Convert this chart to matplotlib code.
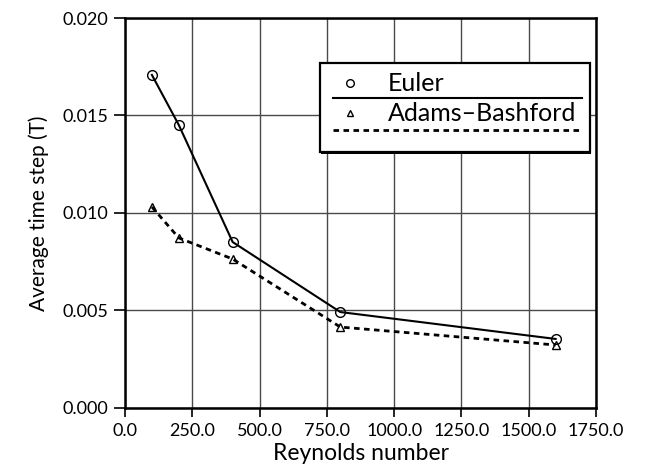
import matplotlib
matplotlib.use("Agg")
import matplotlib.pyplot as plt
from matplotlib.patches import Rectangle
from matplotlib.ticker import FormatStrFormatter

reynolds = [100, 200, 400, 800, 1600]
euler_dt = [0.01708, 0.01451, 0.00851, 0.00492, 0.00354]
adams_dt = [0.01031, 0.00872, 0.00764, 0.00415, 0.00323]
series_labels = ["Euler", "Adams\u2013Bashford"]

plt.rcParams["font.family"] = ["Lato", "DejaVu Sans"]

fig = plt.figure(figsize=(6.47, 4.75), dpi=100)
ax = fig.add_axes([0.1932, 0.1411, 0.728, 0.8210])

dots = (0, (2.0, 1.6))
ax.plot(reynolds, euler_dt, color="black", lw=1.5, marker="o", ms=7,
        mfc="none", mec="black", mew=1.0, zorder=3)
ax.plot(reynolds, adams_dt, color="black", lw=2.0, ls=dots, marker="^", ms=6,
        mfc="none", mec="black", mew=1.0, zorder=3)

ax.set_xlim(0, 1750)
ax.set_ylim(0, 0.020)
ax.set_xticks(range(0, 1751, 250))
ax.set_yticks([0.0, 0.005, 0.010, 0.015, 0.020])
ax.xaxis.set_major_formatter(FormatStrFormatter("%.1f"))
ax.yaxis.set_major_formatter(FormatStrFormatter("%.3f"))
ax.grid(True, color="#4a4a4a", lw=1.0)
ax.set_axisbelow(True)
for sp in ax.spines.values():
    sp.set_linewidth(1.8)
ax.tick_params(axis="y", direction="out", length=8, width=1.2, labelsize=13, pad=4)
ax.tick_params(axis="x", direction="out", length=6.5, width=1.2, labelsize=13, pad=4)
ax.set_xlabel("Reynolds number", fontsize=16.5, labelpad=3)
ax.set_ylabel("Average time step (T)", fontsize=15, labelpad=10)

# hand-drawn legend box
tr = ax.transAxes
ax.add_patch(Rectangle((0.417, 0.651), 0.573, 0.229, transform=tr,
                       facecolor="black", edgecolor="none", zorder=4))
ax.add_patch(Rectangle((0.414, 0.656), 0.573, 0.229, transform=tr,
                       facecolor="white", edgecolor="black", lw=1.6, zorder=5))
ax.plot([0.478], [0.833], transform=tr, marker="o", ms=5.5, mfc="none",
        mec="black", mew=1.0, zorder=6)
ax.text(0.558, 0.833, series_labels[0], transform=tr, fontsize=18,
        va="center", ha="left", zorder=6)
ax.plot([0.442, 0.970], [0.795, 0.795], transform=tr, color="black", lw=1.5, zorder=6)
ax.plot([0.478], [0.756], transform=tr, marker="^", ms=5, mfc="none",
        mec="black", mew=1.0, zorder=6)
ax.text(0.558, 0.756, series_labels[1], transform=tr, fontsize=18,
        va="center", ha="left", zorder=6)
ax.plot([0.442, 0.970], [0.713, 0.713], transform=tr, color="black", lw=2.0,
        ls=dots, zorder=6)

fig.savefig("out.png", dpi=100)
